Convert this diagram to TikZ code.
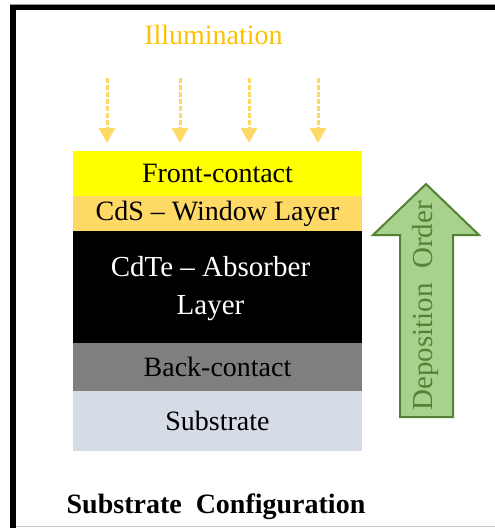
\documentclass[tikz,border=0pt]{standalone}
\usepackage{fontspec}
\setmainfont{Liberation Serif}
\usetikzlibrary{arrows.meta,positioning}

\definecolor{illum}{HTML}{FFC000}
\definecolor{illumarrow}{HTML}{FFD966}
\definecolor{frontfill}{HTML}{FFFF00}
\definecolor{cdsfill}{HTML}{FFD966}
\definecolor{backfill}{HTML}{7F7F7F}
\definecolor{subfill}{HTML}{D6DCE5}
\definecolor{orderfill}{HTML}{A9D18E}
\definecolor{orderline}{HTML}{548235}

\begin{document}
\begin{tikzpicture}[x=1pt, y=-1pt,
  layer/.style={rectangle, fill=#1, minimum width=289pt, inner sep=0pt, outer sep=0pt, align=center, font=\fontsize{28}{38}\selectfont},
  light/.style={illumarrow, line width=3pt, dash pattern=on 4.5pt off 2.5pt, -{Triangle[width=16pt, length=15pt]}}]

\useasboundingbox (0,0) rectangle (495,528);

% frame, cut at the right and at the bottom
\draw[black!40, line width=1pt] (10,4) -- (495,4);
\draw[black!22, line width=1.5pt] (16,526.5) -- (495,526.5);
\draw[line width=5.5pt] (12.8,528) -- (12.8,7.5) -- (495,7.5);

% cell stack, top to bottom
\node [layer=frontfill, minimum height=45pt, anchor=north] (front) at (217.5,151) {Front-contact};
\node [layer=cdsfill, minimum height=35pt, below=0pt of front] (cds) {CdS -- Window Layer};
\node [layer=black, minimum height=112pt, below=0pt of cds] (cdte) {};
\node [text=white, align=center, font=\fontsize{29}{38}\selectfont] (cdtetext) at ([xshift=-7pt, yshift=-2pt]cdte.center) {CdTe -- Absorber\\Layer};
\node [layer=backfill, minimum height=48pt, below=0pt of cdte] (back) {Back-contact};
\node [layer=subfill, minimum height=60pt, below=0pt of back] (sub) {Substrate};

% light coming in from the top
\node [text=illum, font=\fontsize{28}{30}\selectfont] (light) at (213.5,35) {Illumination};
\foreach \x [count=\i] in {107,180,249,318}{
  \coordinate (l\i) at (\x,78);
  \draw[light] (l\i) -- ([yshift=8pt]l\i |- front.north);
}

% deposition order arrow
\draw[fill=orderfill, draw=orderline, line width=2pt] (426,184) -- (479,235) -- (453,235) -- (453,417) -- (400,417) -- (400,235) -- (373,235) -- cycle;
\node [rotate=90, text=orderline, font=\fontsize{29}{30}\selectfont] (order) at (426,306) {Deposition\ \ Order};

\node [font=\fontsize{28}{30}\selectfont\bfseries] (title) at (216,507) {Substrate\ \ Configuration};

\end{tikzpicture}
\end{document}
